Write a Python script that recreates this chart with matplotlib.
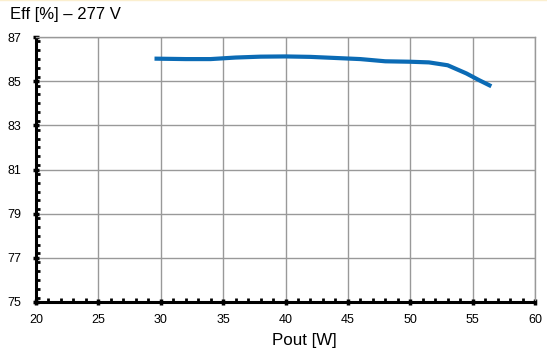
import matplotlib
matplotlib.use("Agg")
import matplotlib.pyplot as plt
from matplotlib.lines import Line2D
from matplotlib.ticker import MultipleLocator

# Efficiency vs output power at 277 V input
pout = [29.5, 32, 34, 36, 38, 40, 42, 44, 46, 48, 50, 51.5, 53, 54.5, 55.5, 56.5]
eff = [86.02, 86.0, 86.0, 86.07, 86.11, 86.12, 86.1, 86.05, 86.0, 85.9,
       85.88, 85.85, 85.72, 85.35, 85.05, 84.77]

x_ticks = [20, 25, 30, 35, 40, 45, 50, 55, 60]
y_ticks = [75, 77, 79, 81, 83, 85, 87]

plt.rcParams["font.family"] = ["Liberation Sans", "DejaVu Sans"]

fig = plt.figure(figsize=(5.47, 3.54), dpi=100)
ax = fig.add_axes([36 / 547, 1 - 302 / 354, 499 / 547, 265 / 354])

ax.plot(pout, eff, color="#0b6bb5", linewidth=3.0, solid_capstyle="butt")

ax.set_xlim(20, 60)
ax.set_ylim(75, 87)
ax.set_xticks(x_ticks)
ax.set_yticks(y_ticks)
ax.xaxis.set_minor_locator(MultipleLocator(1))
ax.yaxis.set_minor_locator(MultipleLocator(0.4))
ax.grid(True, which="major", color="#999999", linewidth=1.0)
ax.set_axisbelow(True)

for side in ("top", "right"):
    ax.spines[side].set_color("#999999")
    ax.spines[side].set_linewidth(1.0)
for side in ("left", "bottom"):
    ax.spines[side].set_color("black")
    ax.spines[side].set_linewidth(2.2)

ax.tick_params(which="major", direction="inout", length=5, width=2.5,
               labelsize=9, pad=6, color="black")
ax.tick_params(which="minor", direction="in", length=3, width=2,
               color="black")
ax.tick_params(axis="y", which="major", pad=8)

fig.text(10 / 547, 1 - 19 / 354, "Eff [%] \u2013 277 V", fontsize=12,
         ha="left", va="baseline")
fig.text(304 / 547, 1 - 340 / 354, "Pout [W]", fontsize=12.2,
         ha="center", va="center")

# faint top border
fig.add_artist(Line2D([0, 1], [0.999, 0.999], transform=fig.transFigure,
                      color="#fbefcf", linewidth=1.0))

fig.savefig("out.png", dpi=100)
